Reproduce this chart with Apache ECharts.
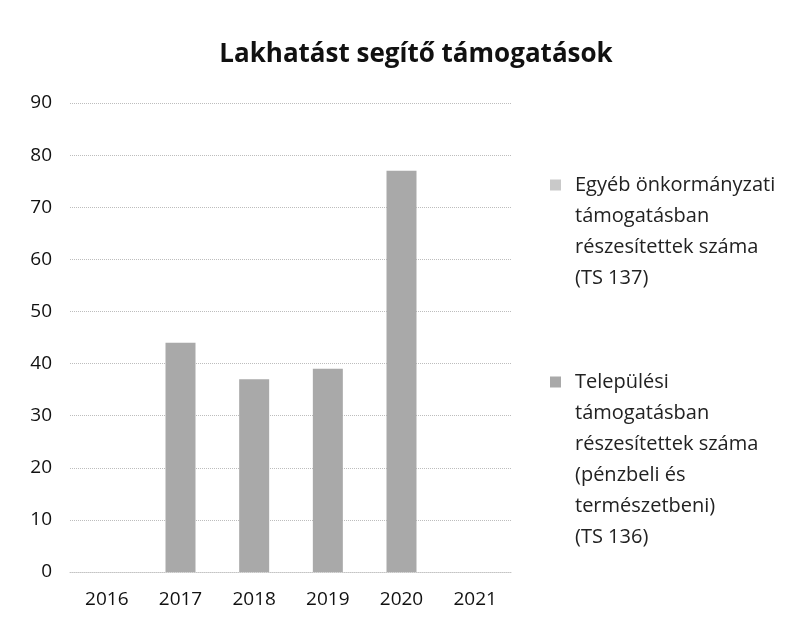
<!DOCTYPE html>
<html>
<head>
<meta charset="utf-8">
<script src="https://cdn.jsdelivr.net/npm/echarts@6/dist/echarts.min.js"></script>
<style>html,body{margin:0;padding:0;background:#fff}#c{width:798px;height:624px}</style>
</head>
<body>
<div id="c"></div>
<script>
var categories = ['2016', '2017', '2018', '2019', '2020', '2021'];
var telepulesi = [null, 44, 37, 39, 77, null];
var egyeb = [null, 0, 0, 0, 0, null];
var yTicks = { min: 0, max: 90, interval: 10 };
var nameTelepulesi = 'Települési\ntámogatásban\nrészesítettek száma\n(pénzbeli és\ntermészetbeni)\n(TS 136)';
var nameEgyeb = 'Egyéb önkormányzati\ntámogatásban\nrészesítettek száma\n(TS 137)';

var font = 'Open Sans';
var LH = 31;
function topAligned(name) {
  var n = name.split('\n').length;
  return new Array(n).join('\n') + name;
}
var chart = echarts.init(document.getElementById('c'), null, { renderer: 'canvas' });
chart.setOption({
  backgroundColor: '#ffffff',
  animation: false,
  title: {
    text: 'Lakhatást segítő támogatások',
    left: 411, textAlign: 'center', top: 37,
    textStyle: { fontFamily: font, fontWeight: 'bold', fontSize: 26, color: '#111' }
  },
  legend: [
    {
      data: [nameEgyeb], orient: 'vertical', left: 550, top: 185 - 3.5 * LH, padding: 0,
      itemWidth: 11, itemHeight: 11, icon: 'rect', selectedMode: false,
      formatter: topAligned,
      textStyle: { fontFamily: font, fontSize: 20, color: '#222', lineHeight: LH, padding: [0, 0, 0, 9] }
    },
    {
      data: [nameTelepulesi], orient: 'vertical', left: 550, top: 382 - 5.5 * LH, padding: 0,
      itemWidth: 11, itemHeight: 11, icon: 'rect', selectedMode: false,
      formatter: topAligned,
      textStyle: { fontFamily: font, fontSize: 20, color: '#222', lineHeight: LH, padding: [0, 0, 0, 9] }
    }
  ],
  grid: { left: 70, right: 286, top: 103, bottom: 52, containLabel: false },
  xAxis: {
    type: 'category', data: categories,
    axisLine: { show: true, lineStyle: { color: '#c4c4c4', type: 'dotted', width: 1 } },
    axisTick: { show: false },
    axisLabel: { fontFamily: font, fontSize: 19, color: '#111', margin: 18 }
  },
  yAxis: {
    type: 'value', min: yTicks.min, max: yTicks.max, interval: yTicks.interval,
    axisLine: { show: false }, axisTick: { show: false },
    axisLabel: { fontFamily: font, fontSize: 19, color: '#111', margin: 18 },
    splitLine: { lineStyle: { color: '#bdbdbd', type: 'dotted', width: 1 } }
  },
  series: [
    { name: nameTelepulesi, type: 'bar', stack: 's', data: telepulesi, barWidth: 30,
      itemStyle: { color: '#a9a9a9' } },
    { name: nameEgyeb, type: 'bar', stack: 's', data: egyeb, barWidth: 30,
      itemStyle: { color: '#c9c9c9' } }
  ]
});
</script>
</body>
</html>
